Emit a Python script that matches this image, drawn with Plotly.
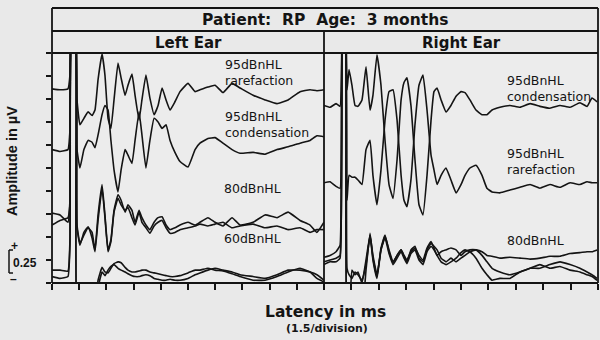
import plotly.graph_objects as go

# ---------------- data (latency in ms, amplitude in microvolts) ----------------
latency_ticks_ms = [0, 1.5, 3, 4.5, 6, 7.5, 9, 10.5, 12, 13.5, 15]
amplitude_ticks_uv = [0, 0.25, 0.5, 0.75, 1.0, 1.25, 1.5, 1.75, 2.0, 2.25, 2.5]

left_latency_ms = [0.00, 0.44, 0.88, 0.99, 1.10, 1.27, 1.38, 1.54, 1.76, 1.99,
                   2.21, 2.37, 2.54, 2.76, 2.92, 3.09, 3.25, 3.42, 3.64, 3.81,
                   4.03, 4.19, 4.41, 4.58, 4.80, 4.96, 5.18, 5.40, 5.63, 5.85,
                   6.07, 6.29, 6.51, 6.78, 7.06, 7.50, 7.89, 8.16, 8.60, 8.99,
                   9.43, 9.93, 10.37, 11.09, 11.75, 12.41, 13.02, 13.68, 14.23, 14.61,
                   15.00]

left_95_rarefaction = [2.11, 2.10, 2.11, 2.26, 3.0, 3.0, 1.99, 1.72, 1.79, 1.86,
                       1.82, 1.88, 2.21, 2.49, 2.26, 1.79, 1.68, 1.99, 2.39, 2.23,
                       2.04, 2.15, 2.27, 2.04, 1.77, 1.99, 2.26, 2.01, 1.83, 1.93,
                       2.12, 1.99, 1.88, 1.97, 2.08, 2.17, 2.08, 2.10, 2.13, 2.15,
                       2.07, 2.17, 2.12, 2.04, 1.99, 1.95, 1.99, 2.08, 2.10, 2.09,
                       2.10]
left_95_condensation = [1.45, 1.43, 1.45, 1.66, 3.0, 3.0, 1.45, 1.25, 1.45, 1.55,
                        1.53, 1.47, 1.61, 1.83, 1.93, 1.88, 1.55, 1.23, 0.99, 1.23,
                        1.45, 1.39, 1.30, 1.55, 1.86, 1.61, 1.25, 1.55, 1.79, 1.75,
                        1.68, 1.72, 1.55, 1.42, 1.32, 1.26, 1.45, 1.52, 1.57, 1.58,
                        1.52, 1.45, 1.41, 1.42, 1.40, 1.45, 1.48, 1.52, 1.55, 1.60,
                        1.59]
left_80_run1 = [0.76, 0.74, 0.66, 0.90, 3.0, 3.0, 0.63, 0.43, 0.52, 0.60,
                0.55, 0.36, 0.74, 1.07, 0.74, 0.36, 0.47, 0.79, 0.96, 0.90,
                0.77, 0.85, 0.79, 0.66, 0.79, 0.71, 0.63, 0.58, 0.66, 0.71,
                0.72, 0.63, 0.58, 0.60, 0.63, 0.66, 0.63, 0.66, 0.71, 0.66,
                0.62, 0.71, 0.63, 0.66, 0.74, 0.71, 0.77, 0.68, 0.63, 0.55,
                0.66]
left_80_run2 = [0.63, 0.68, 0.71, 0.85, 3.0, 3.0, 0.60, 0.41, 0.55, 0.61,
                0.49, 0.34, 0.68, 1.03, 0.71, 0.34, 0.45, 0.77, 0.92, 0.85,
                0.79, 0.82, 0.71, 0.63, 0.77, 0.66, 0.60, 0.54, 0.62, 0.66,
                0.68, 0.60, 0.54, 0.55, 0.58, 0.60, 0.62, 0.64, 0.62, 0.64,
                0.66, 0.60, 0.62, 0.64, 0.60, 0.62, 0.58, 0.60, 0.55, 0.58,
                0.58]
left_60_run1 = [0.14, 0.14, 0.13, 0.47, 3.0, 3.0, -0.3, -0.3, -0.3, -0.3,
                -0.3, -0.3, 0.03, 0.17, 0.12, 0.11, 0.16, 0.21, 0.23, 0.22,
                0.17, 0.14, 0.12, 0.12, 0.13, 0.14, 0.14, 0.12, 0.11, 0.10,
                0.09, 0.08, 0.07, 0.07, 0.08, 0.11, 0.14, 0.14, 0.16, 0.14,
                0.13, 0.10, 0.07, 0.03, 0.03, 0.07, 0.12, 0.16, 0.12, 0.05,
                0.01]
left_60_run2 = [0.07, 0.05, 0.07, 0.41, 3.0, 3.0, -0.3, -0.3, -0.3, -0.3,
                -0.3, -0.3, -0.05, 0.12, 0.08, 0.14, 0.18, 0.20, 0.16, 0.14,
                0.12, 0.10, 0.08, 0.07, 0.07, 0.08, 0.09, 0.08, 0.05, 0.04,
                0.03, 0.03, 0.04, 0.03, 0.03, 0.05, 0.09, 0.11, 0.14, 0.16,
                0.14, 0.12, 0.09, 0.07, 0.05, 0.09, 0.14, 0.14, 0.12, 0.09,
                0.03]

right_latency_ms = [0.00, 0.33, 0.66, 0.88, 1.04, 1.15, 1.26, 1.37, 1.53, 1.70,
                    1.86, 2.08, 2.30, 2.52, 2.68, 2.90, 3.12, 3.34, 3.56, 3.78,
                    4.00, 4.22, 4.38, 4.54, 4.76, 4.98, 5.20, 5.42, 5.64, 5.86,
                    6.02, 6.19, 6.41, 6.68, 6.95, 7.23, 7.50, 7.72, 7.99, 8.32,
                    8.65, 8.92, 9.20, 9.63, 10.18, 10.73, 11.28, 11.82, 12.37, 12.92,
                    13.47, 14.01, 14.40, 14.67, 14.95]

right_95_condensation = [1.93, 1.91, 1.95, 1.92, 3.0, 3.0, 2.10, 2.32, 2.15, 1.93,
                         1.92, 1.99, 2.35, 1.88, 2.04, 2.48, 2.15, 1.55, 1.07, 0.92,
                         1.34, 1.99, 2.18, 2.23, 1.93, 1.34, 0.85, 0.74, 1.17, 1.77,
                         2.08, 2.12, 1.99, 1.86, 1.93, 2.03, 2.08, 2.07, 1.99, 1.88,
                         1.83, 1.83, 1.88, 1.91, 1.93, 1.91, 1.95, 1.92, 1.90, 1.93,
                         1.91, 1.96, 1.92, 2.01, 1.97]
right_95_rarefaction = [1.09, 1.10, 1.05, 1.03, 3.0, 3.0, 0.90, 1.17, 1.15, 1.15,
                        1.12, 1.07, 1.45, 1.55, 1.17, 0.85, 1.23, 1.77, 2.08, 2.10,
                        1.77, 1.17, 0.90, 0.83, 1.12, 1.72, 2.15, 2.26, 1.88, 1.39,
                        1.23, 1.07, 1.17, 1.25, 1.12, 0.98, 1.07, 1.17, 1.25, 1.28,
                        1.17, 1.03, 0.99, 0.98, 1.01, 1.04, 1.07, 1.03, 1.07, 1.04,
                        1.09, 1.07, 1.10, 1.09, 1.09]
right_80_run1 = [0.28, 0.30, 0.34, 0.41, 3.0, 3.0, -0.3, -0.3, 0.14, 0.09,
                 0.12, 0.00, 0.25, 0.52, 0.30, 0.09, 0.36, 0.51, 0.36, 0.23,
                 0.30, 0.36, 0.30, 0.25, 0.34, 0.38, 0.30, 0.25, 0.38, 0.45,
                 0.38, 0.30, 0.34, 0.36, 0.38, 0.36, 0.30, 0.34, 0.36, 0.36,
                 0.34, 0.30, 0.29, 0.27, 0.28, 0.27, 0.26, 0.27, 0.29, 0.29,
                 0.32, 0.33, 0.34, 0.34, 0.36]
right_80_run2 = [0.23, 0.25, 0.27, 0.30, 3.0, 3.0, -0.3, -0.3, -0.3, -0.3,
                 -0.3, -0.3, 0.14, 0.54, 0.27, 0.07, 0.38, 0.52, 0.34, 0.22,
                 0.30, 0.36, 0.29, 0.23, 0.36, 0.40, 0.27, 0.23, 0.36, 0.43,
                 0.40, 0.36, 0.27, 0.23, 0.27, 0.23, 0.27, 0.30, 0.34, 0.36,
                 0.30, 0.23, 0.16, 0.12, 0.09, 0.12, 0.16, 0.16, 0.20, 0.23,
                 0.20, 0.16, 0.12, 0.09, 0.05]
right_80_run3 = [0.20, 0.23, 0.23, 0.27, 3.0, 3.0, 0.16, 0.09, 0.05, 0.12,
                 0.09, 0.03, 0.20, 0.51, 0.25, 0.05, 0.36, 0.49, 0.32, 0.20,
                 0.27, 0.34, 0.27, 0.21, 0.32, 0.36, 0.25, 0.20, 0.34, 0.40,
                 0.36, 0.30, 0.23, 0.20, 0.23, 0.27, 0.33, 0.36, 0.34, 0.27,
                 0.16, 0.09, 0.03, 0.05, 0.05, 0.12, 0.16, 0.20, 0.16, 0.18,
                 0.14, 0.12, 0.09, 0.07, 0.03]

left_traces = [left_95_rarefaction, left_95_condensation, left_80_run1,
               left_80_run2, left_60_run1, left_60_run2]
right_traces = [right_95_condensation, right_95_rarefaction, right_80_run1,
                right_80_run2, right_80_run3]

# ---------------- figure ----------------
W, H = 600, 340
INK = "#141414"


def fx(p):
    return p / W


def fy(p):
    return 1 - p / H


fig = go.Figure()
line_style = dict(color=INK, width=1.6, shape="spline", smoothing=0.35)
for tr in left_traces:
    fig.add_trace(go.Scatter(x=left_latency_ms, y=tr, mode="lines", line=line_style,
                             xaxis="x", yaxis="y", showlegend=False, hoverinfo="skip"))
for tr in right_traces:
    fig.add_trace(go.Scatter(x=right_latency_ms, y=tr, mode="lines", line=line_style,
                             xaxis="x2", yaxis="y2", showlegend=False, hoverinfo="skip"))

plot_top, plot_bot = 53, 283
left_x0, mid_x, right_x1 = 52, 324, 598
ydom = [fy(plot_bot), fy(plot_top)]

axis_common = dict(range=[0, 15], tickvals=latency_ticks_ms, ticks="outside", ticklen=6,
                   tickwidth=1.5, tickcolor=INK, showticklabels=False, showgrid=False,
                   zeroline=False, showline=False, fixedrange=True)
fig.update_layout(
    width=W, height=H, margin=dict(l=0, r=0, t=0, b=0),
    paper_bgcolor="#e9e9e9", plot_bgcolor="#ececec",
    xaxis=dict(domain=[fx(left_x0), fx(mid_x)], anchor="y", **axis_common),
    xaxis2=dict(domain=[fx(mid_x), fx(right_x1)], anchor="y2", **axis_common),
    yaxis=dict(domain=ydom, anchor="x", range=[0, 2.5], tickvals=amplitude_ticks_uv,
               ticks="outside", ticklen=5, tickwidth=1.5, tickcolor=INK,
               showticklabels=False, showgrid=False, zeroline=False, showline=False),
    yaxis2=dict(domain=ydom, anchor="x2", range=[0, 2.5], showticklabels=False,
                ticks="", showgrid=False, zeroline=False, showline=False),
)


def seg(x0, y0, x1, y1, w=1.8):
    return dict(type="line", xref="paper", yref="paper", x0=fx(x0), y0=fy(y0),
                x1=fx(x1), y1=fy(y1), line=dict(color=INK, width=w), layer="above")


shapes = [
    seg(left_x0, 8, right_x1, 8),
    seg(left_x0, 31, right_x1, 31),
    seg(left_x0, plot_top, right_x1, plot_top),
    seg(left_x0, plot_bot, right_x1, plot_bot),
    seg(left_x0, 8, left_x0, plot_bot),
    seg(right_x1, 8, right_x1, plot_bot),
    seg(mid_x, 31, mid_x, plot_bot),
    # 0.25 uV scale bar
    seg(9, 250, 9, 273, 1.5),
    seg(9, 250, 13, 250, 1.5),
    seg(9, 273, 13, 273, 1.5),
]


def note(text, x, y, size, family, bold=False, xanchor="center", angle=0, align="left"):
    return dict(text=f"<b>{text}</b>" if bold else text, x=fx(x), y=fy(y),
                xref="paper", yref="paper", xanchor=xanchor, yanchor="middle",
                showarrow=False, textangle=angle, align=align,
                font=dict(size=size, family=family, color=INK))


NB = "\u00a0"
head_font = "DejaVu Sans"
lab_font = "DejaVu Sans"
LS = 12.5
annotations = [
    note(f"Patient:{NB}{NB}RP{NB}{NB}Age:{NB}{NB}3 months", 325, 19.5, 15.5, head_font, True),
    note("Left Ear", 188, 42.5, 15, head_font, True),
    note("Right Ear", 461, 42.5, 15, head_font, True),
    note("Latency in ms", 325, 311.5, 15.5, head_font, True),
    note("(1.5/division)", 327, 328, 11, head_font, True),
    note("Amplitude in µV", 12, 161, 14.5, "Liberation Sans", True, angle=-90),
    note("+", 14, 246, 12, "Liberation Sans", True),
    note("0.25", 25, 263, 12, "Liberation Sans", True),
    note("\u2013", 13, 279, 12, "Liberation Sans", True),
    # left panel labels
    note("95dBnHL<br>rarefaction", 223, 72.5, LS, lab_font, xanchor="left"),
    note("95dBnHL<br>condensation", 223, 124.5, LS, lab_font, xanchor="left"),
    note("80dBnHL", 222, 188, LS, lab_font, xanchor="left"),
    note("60dBnHL", 222, 239, LS, lab_font, xanchor="left"),
    # right panel labels
    note("95dBnHL<br>condensation", 505, 88.5, LS, lab_font, xanchor="left"),
    note("95dBnHL<br>rarefaction", 505, 161.5, LS, lab_font, xanchor="left"),
    note("80dBnHL", 505, 240, LS, lab_font, xanchor="left"),
]
fig.update_layout(shapes=shapes, annotations=annotations)

fig.write_html("out.html")
